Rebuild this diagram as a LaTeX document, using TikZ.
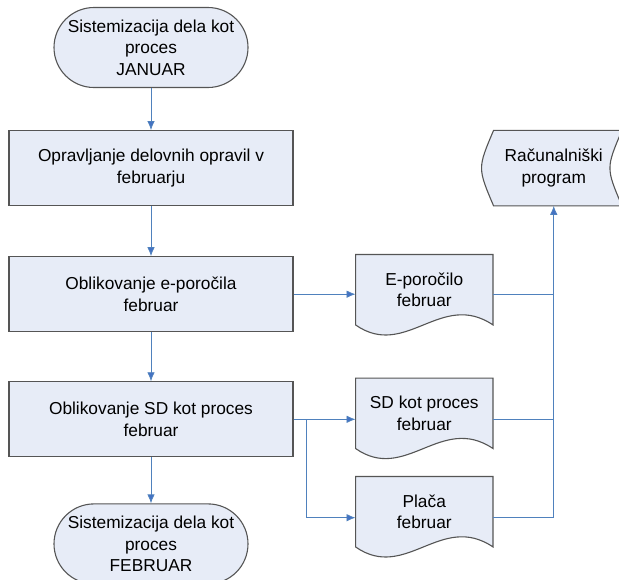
\documentclass[tikz,border=0pt]{standalone}
\usepackage{fontspec}
\setmainfont{Liberation Sans}
\usetikzlibrary{arrows.meta,positioning,backgrounds}
\definecolor{boxfill}{RGB}{231,236,247}
\definecolor{boxline}{RGB}{85,85,85}
\definecolor{flowblue}{RGB}{79,129,189}
\definecolor{tipblue}{RGB}{68,114,196}
\begin{document}
\begin{tikzpicture}[
    x=1pt, y=1pt,
    font=\fontsize{17.3}{21.5}\selectfont,
    terminal/.style={
        rectangle, rounded corners=40pt, draw=boxline, line width=1.1pt,
        fill=boxfill, minimum width=194pt, minimum height=80pt,
        align=center, inner sep=1pt
    },
    process/.style={
        rectangle, draw=boxline, line width=1.1pt, fill=boxfill,
        minimum width=284pt, minimum height=75pt, align=center
    },
    docbox/.style={
        rectangle, minimum width=137pt, minimum height=70pt,
        align=center, inner sep=1pt
    },
    storebox/.style={
        rectangle, minimum width=128pt, minimum height=75pt,
        align=center, inner sep=1pt
    },
    outline/.style={draw=boxline, line width=1.1pt, fill=boxfill},
    flow/.style={-{Latex[length=9pt,width=7.5pt,fill=tipblue]}, draw=flowblue, line width=0.8pt},
    link/.style={draw=flowblue, line width=0.8pt}
]
\useasboundingbox (0,0) rectangle (619,-579);
% Main column
\node[terminal] (T1) at (151,-47.5) {Sistemizacija dela kot\\proces\\JANUAR};
\node[process, below=42pt of T1] (B1) {Opravljanje delovnih opravil v\\februarju};
\node[process, below=50pt of B1] (B2) {Oblikovanje e-poročila\\februar};
\node[process, below=49pt of B2] (B3) {Oblikovanje SD kot proces\\februar};
\node[terminal, below=46pt of B3] (T2) {Sistemizacija dela kot\\proces\\FEBRUAR};
% Documents and program
\node[docbox, right=62pt of B2, yshift=4.5pt] (D1) {E-poročilo\\februar};
\node[docbox, right=62pt of B3, yshift=6pt] (D2) {SD kot proces\\februar};
\node[docbox, below=28pt of D2] (D3) {Plača\\februar};
\node[storebox, right=196pt of B1] (R) {Računalniški\\program};
% Shapes behind the text
\begin{scope}[on background layer]
  \foreach \d in {D1,D2,D3}
    \path[outline] (\d.north west) -- (\d.north east) -- (\d.south east)
      .. controls ([xshift=-52pt,yshift=35pt]\d.south east)
      and ([xshift=50pt,yshift=-35pt]\d.south west) .. (\d.south west) -- cycle;
  \path[outline] ([xshift=4pt]R.north west) -- ([xshift=4pt]R.north east)
    .. controls ([xshift=-12pt]R.east) .. ([xshift=4pt]R.south east)
    -- ([xshift=4pt]R.south west)
    .. controls ([xshift=-12pt]R.west) .. ([xshift=4pt]R.north west) -- cycle;
\end{scope}
% Connectors
\draw[flow] (T1) -- (B1);
\draw[flow] (B1) -- (B2);
\draw[flow] (B2) -- (B3);
\draw[flow] (B3) -- (T2);
\draw[flow] (B2.east) -- (B2.east -| D1.west);
\draw[flow] (B3.east) -- (B3.east -| D2.west);
\coordinate (split) at ([xshift=13pt]B3.east);
\draw[flow] (split) |- ([yshift=-6pt]D3.west);
\draw[link] (D1.east |- B2.east) -- (R.south |- B2.east);
\draw[link] (D2.east |- B3.east) -- (R.south |- B3.east);
\draw[flow] ([yshift=-6pt]D3.east) -| (R.south);
\end{tikzpicture}
\end{document}
